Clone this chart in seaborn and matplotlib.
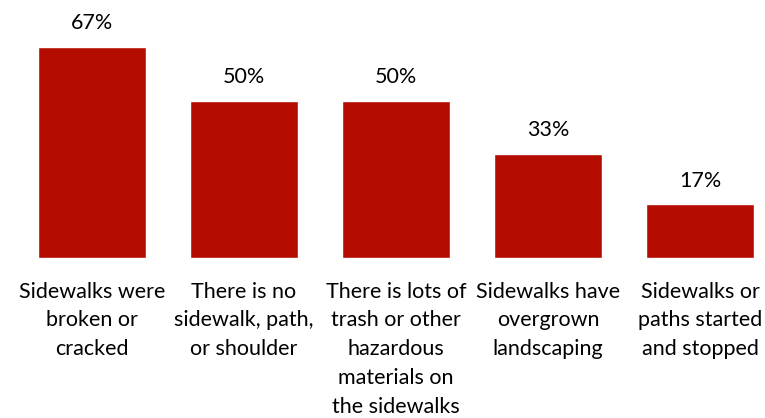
import matplotlib
matplotlib.use("Agg")
import matplotlib.pyplot as plt
import seaborn as sns
import pandas as pd

categories = [
    "Sidewalks were\nbroken or\ncracked",
    "There is no\nsidewalk, path,\nor shoulder",
    "There is lots of\ntrash or other\nhazardous\nmaterials on\nthe sidewalks",
    "Sidewalks have\novergrown\nlandscaping",
    "Sidewalks or\npaths started\nand stopped",
]
values = [67, 50, 50, 33, 17]
labels = ["67%", "50%", "50%", "33%", "17%"]

sns.set_theme(style="white")
plt.rcParams['font.family'] = ['Lato', 'DejaVu Sans']

df = pd.DataFrame({"cat": categories, "val": values})

fig = plt.figure(figsize=(7.65, 4.18), dpi=100)
ax = fig.add_axes([0, 1 - 258/418, 1, 258/418])
sns.barplot(data=df, x="cat", y="val", color="#B50C00", saturation=1, width=0.71, ax=ax)
ax.set_xlim((0 - 92) / 152, (765 - 92) / 152)
ax.set_ylim(0, 258 / 3.15)
for i, (v, l) in enumerate(zip(values, labels)):
    ax.annotate(l, (i, v), xytext=(0, 10), textcoords="offset points",
                ha="center", va="bottom", fontsize=15.5, color="#000000")
ax.set_xlabel("")
ax.set_ylabel("")
ax.set_yticks([])
ax.tick_params(axis="x", length=0, pad=17)
for t in ax.get_xticklabels():
    t.set_fontsize(15.5)
    t.set_linespacing(1.55)
    t.set_color("#000000")
for s in ax.spines.values():
    s.set_visible(False)
fig.savefig("out.png", dpi=100)
